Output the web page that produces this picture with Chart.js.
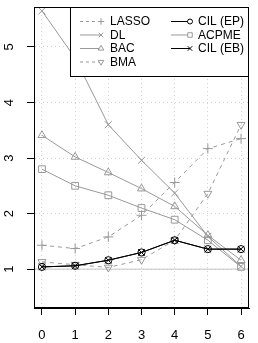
<!DOCTYPE html>
<html>
<head>
<meta charset="utf-8">
<script src="https://cdn.jsdelivr.net/npm/chart.js@4.4.0/dist/chart.umd.min.js"></script>
<style>
  html, body { margin: 0; padding: 0; background: #fff; }
  canvas { display: block; }
</style>
</head>
<body>
<canvas id="chart" width="258" height="343"></canvas>
<script>
// data
const xValues = [0, 1, 2, 3, 4, 5, 6];
const xTicks = [0, 1, 2, 3, 4, 5, 6];
const yTicks = [1, 2, 3, 4, 5];
const refLevel = 1;

const lasso = [1.43, 1.37, 1.58, 1.97, 2.56, 3.17, 3.35];
const dl    = [5.65, 4.80, 3.60, 2.96, 2.37, 1.59, 1.05];
const bac   = [3.41, 3.02, 2.74, 2.45, 2.13, 1.61, 1.16];
const bma   = [1.13, 1.08, 1.03, 1.17, 1.52, 2.36, 3.60];
const cilEp = [1.04, 1.06, 1.16, 1.30, 1.52, 1.36, 1.36];
const acpme = [2.80, 2.50, 2.33, 2.10, 1.89, 1.52, 1.04];
const cilEb = [1.04, 1.06, 1.16, 1.30, 1.52, 1.36, 1.36];

const X_MIN = -0.24, X_MAX = 6.24;
const Y_MIN = 0.3, Y_MAX = 5.72;

const GRAY = '#999999';
const FONT = '"Liberation Sans", Arial, sans-serif';

function series(label, values, color, pointStyle, opts = {}) {
    return {
        label,
        data: values.map((v, i) => ({ x: xValues[i], y: v })),
        borderColor: color,
        borderWidth: 1,
        borderDash: opts.dash || [],
        pointStyle,
        pointRotation: opts.rotation || 0,
        pointRadius: opts.radius || 4.6,
        pointBorderColor: color,
        pointBackgroundColor: 'rgba(0,0,0,0)',
        pointBorderWidth: 1,
        order: opts.order ?? 1,
        tension: 0
    };
}

const datasets = [
    series('LASSO', lasso, GRAY, 'cross', { dash: [4, 4], radius: 5 }),
    series('DL', dl, GRAY, 'crossRot', { radius: 5 }),
    series('BAC', bac, GRAY, 'triangle'),
    series('BMA', bma, GRAY, 'triangle', { dash: [4, 4], rotation: 180 }),
    series('CIL (EP)', cilEp, '#000', 'circle', { radius: 3.6, order: 0 }),
    series('ACPME', acpme, GRAY, 'rect', { radius: 4.8 }),
    series('CIL (EB)', cilEb, '#000', 'crossRot', { radius: 4.6, order: 0 })
];

// horizontal reference line at 1
datasets.push({
    label: '_ref',
    data: [{ x: X_MIN, y: refLevel }, { x: X_MAX, y: refLevel }],
    borderColor: '#c4c4c4',
    borderWidth: 1,
    pointRadius: 0,
    order: 2
});

const framePlugin = {
    id: 'frameAndLegend',
    afterDraw(chart) {
        const { ctx, chartArea: a } = chart;
        ctx.save();
        ctx.strokeStyle = '#000';
        ctx.lineWidth = 1;
        ctx.strokeRect(Math.round(a.left) + 0.5, Math.round(a.top) + 0.5,
            Math.round(a.right - a.left) - 1, Math.round(a.bottom - a.top) - 1);

        // y tick labels, rotated like R's las=0
        ctx.font = '13px ' + FONT;
        ctx.fillStyle = '#000';
        ctx.textAlign = 'center';
        ctx.textBaseline = 'middle';
        yTicks.forEach(v => {
            ctx.save();
            ctx.translate(9, chart.scales.y.getPixelForValue(v));
            ctx.rotate(-Math.PI / 2);
            ctx.fillText(String(v), 0, 0);
            ctx.restore();
        });

        // legend box, top-right
        const box = { left: 70.5, top: 7.5, right: 248.5, bottom: 76.5 };
        ctx.fillStyle = '#fff';
        ctx.fillRect(box.left, box.top, box.right - box.left, box.bottom - box.top);
        ctx.strokeRect(box.left, box.top, box.right - box.left, box.bottom - box.top);

        const cols = [
            { lineStart: 80, marker: 101, text: 110 },
            { lineStart: 171, marker: 190, text: 198 }
        ];
        const rows = [21.5, 35, 48.5, 62];
        ctx.font = '12px ' + FONT;
        ctx.textBaseline = 'middle';
        chart.data.datasets.filter(d => d.label !== '_ref').forEach((d, i) => {
            const c = cols[Math.floor(i / 4)];
            const y = rows[i % 4];
            ctx.save();
            ctx.strokeStyle = d.borderColor;
            ctx.lineWidth = 1;
            ctx.setLineDash(d.borderDash.length ? [3, 3] : []);
            ctx.beginPath();
            ctx.moveTo(c.lineStart, y);
            ctx.lineTo(c.marker, y);
            ctx.stroke();
            ctx.setLineDash([]);
            ctx.fillStyle = '#fff';
            Chart.helpers.drawPoint(ctx, {
                pointStyle: d.pointStyle,
                rotation: d.pointRotation,
                radius: d.pointStyle === 'circle' ? 2.5 : 3.2,
                borderWidth: 1
            }, c.marker, y);
            ctx.restore();
            ctx.fillStyle = '#000';
            ctx.textAlign = 'left';
            ctx.fillText(d.label, c.text, y + 0.5);
        });
        ctx.restore();
    }
};

new Chart(document.getElementById('chart'), {
    type: 'line',
    data: { datasets },
    options: {
        responsive: false,
        animation: false,
        layout: { padding: { top: 7, right: 9, left: 0, bottom: 0 } },
        plugins: { legend: { display: false }, tooltip: { enabled: false } },
        scales: {
            x: {
                type: 'linear',
                min: X_MIN,
                max: X_MAX,
                afterBuildTicks: s => { s.ticks = xTicks.map(v => ({ value: v })); },
                afterFit: s => { s.height = 35; },
                ticks: {
                    color: '#000',
                    font: { family: FONT, size: 13 },
                    padding: 13,
                    maxRotation: 0,
                    autoSkip: false,
                    callback: v => String(v)
                },
                grid: { color: '#d3d3d3', tickColor: '#000', tickLength: 7 },
                border: { color: '#000', dash: [1, 3] }
            },
            y: {
                type: 'linear',
                min: Y_MIN,
                max: Y_MAX,
                afterBuildTicks: s => { s.ticks = yTicks.map(v => ({ value: v })); },
                afterFit: s => { s.width = 34; },
                ticks: { display: false },
                grid: { color: '#d3d3d3', tickColor: '#000', tickLength: 7 },
                border: { color: '#000', dash: [1, 3] }
            }
        }
    },
    plugins: [framePlugin]
});
</script>
</body>
</html>
